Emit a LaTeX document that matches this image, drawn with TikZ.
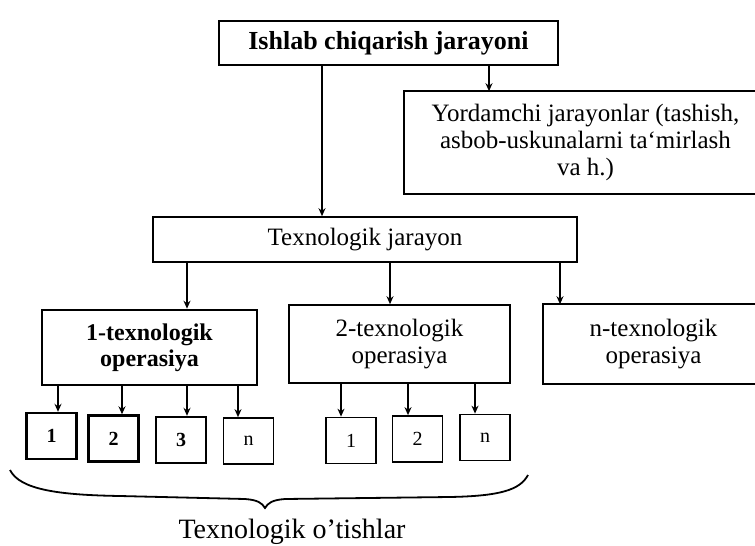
\documentclass[tikz,border=0pt]{standalone}
\usepackage{fontspec}
\setmainfont{Liberation Serif}
\usetikzlibrary{arrows.meta}
\begin{document}
\begin{tikzpicture}[x=1pt,y=-1pt,box/.style={shape=rectangle,draw=black,line width=1.6pt,align=center,inner sep=0pt,font=\fontsize{25}{27}\selectfont},boxB/.style={box,line width=2.6pt,font=\fontsize{25}{27}\selectfont\bfseries},boxO/.style={box,draw=none},num/.style={shape=rectangle,draw=black,line width=1.7pt,minimum width=50pt,minimum height=46pt,inner sep=0pt,font=\fontsize{20}{20}\selectfont},numB/.style={num,line width=2.4pt,font=\fontsize{20}{20}\selectfont\bfseries},arr/.style={-{Stealth[length=8pt,width=7pt]},line width=1.6pt},frame/.style={line width=1.6pt}]
\def\ny{439};
\def\cut{60pt};

\useasboundingbox (0,0) rectangle (755,546);

\node[boxB,minimum width=339pt,minimum height=44pt,font=\fontsize{26}{28}\selectfont\bfseries] (prod) at (388.5,43) {Ishlab chiqarish jarayoni};

\node[boxO,minimum width=361pt,minimum height=101pt] (aux) at (585.5,142.5) {Yordamchi jarayonlar (tashish,\\asbob-uskunalarni ta`mirlash\\va h.)};
\draw[frame] ([xshift=\cut]aux.north east) -| (aux.south west) -- ([xshift=\cut]aux.south east);
\draw[arr] ([xshift=100.5pt]prod.south) -- ([xshift=100.5pt]prod.south |- aux.north);

\node[box,minimum width=424pt,minimum height=45pt] (tech) at (365,239.5) {Texnologik jarayon};
\draw[arr] ([xshift=-66.5pt]prod.south) -- ([xshift=-66.5pt]prod.south |- tech.north);

\node[boxB,minimum width=215pt,minimum height=75pt,font=\fontsize{24}{26}\selectfont\bfseries] (op1) at (149.5,347.5) {1-texnologik\\operasiya};
\draw[arr] ([xshift=37.5pt]op1.north |- tech.south) -- ([xshift=37.5pt]op1.north);
\node[box,minimum width=221pt,minimum height=78pt] (op2) at (399.5,344) {2-texnologik\\operasiya};
\draw[arr] ([xshift=-9.5pt]op2.north |- tech.south) -- ([xshift=-9.5pt]op2.north);
\node[boxO,minimum width=219pt,minimum height=78pt] (opn) at (653.5,344) {n-texnologik\\operasiya};
\draw[frame] ([xshift=\cut]opn.north east) -| (opn.south west) -- ([xshift=\cut]opn.south east);
\draw[arr] ([xshift=-93.5pt]opn.north |- tech.south) -- ([xshift=-93.5pt]opn.north);

\node[numB] (a1) at (51.5,436) {1};
\draw[arr] ([xshift=6.5pt]a1.north |- op1.south) -- ([xshift=6.5pt]a1.north);
\node[numB] (a2) at (113.5,438.5) {2};
\draw[arr] ([xshift=8.5pt]a2.north |- op1.south) -- ([xshift=8.5pt]a2.north);
\node[numB] (a3) at (181,440) {3};
\draw[arr] ([xshift=6pt]a3.north |- op1.south) -- ([xshift=6pt]a3.north);
\node[num] (an) at (248.5,441) {n};
\draw[arr] ([xshift=-10.5pt]an.north |- op1.south) -- ([xshift=-10.5pt]an.north);

\node[num] (b1) at (351,440.5) {1};
\draw[arr] ([xshift=-10pt]b1.north |- op2.south) -- ([xshift=-10pt]b1.north);
\node[num] (b2) at (417.5,\ny) {2};
\draw[arr] ([xshift=-9.5pt]b2.north |- op2.south) -- ([xshift=-9.5pt]b2.north);
\node[num] (bn) at (485,437.5) {n};
\draw[arr] ([xshift=-10pt]bn.north |- op2.south) -- ([xshift=-10pt]bn.north);

\draw[line width=1.8pt] (10,470) .. controls (20,490) and (60,495) .. (120,496) -- (245,499) .. controls (258,500) and (262,503) .. (265,508) .. controls (268,503) and (272,500) .. (285,499) -- (450,497) .. controls (500,496) and (520,490) .. (528,475);
\node[font=\fontsize{28}{30}\selectfont] (trans) at (292,532) {Texnologik o'tishlar};
\end{tikzpicture}
\end{document}
